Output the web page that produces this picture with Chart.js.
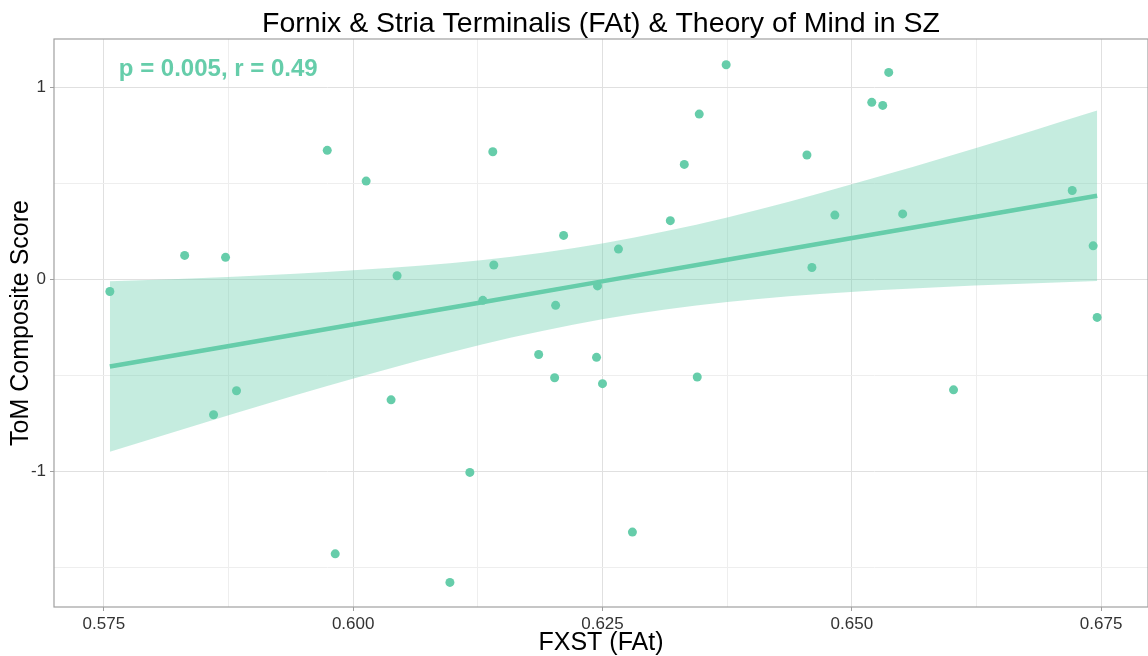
<!DOCTYPE html>
<html>
<head>
<meta charset="utf-8">
<script src="https://cdn.jsdelivr.net/npm/chart.js@4.4.1/dist/chart.umd.min.js"></script>
<style>
  html, body { margin: 0; padding: 0; background: #fff; }
  #wrap { width: 1148px; height: 656px; }
</style>
</head>
<body>
<div id="wrap"><canvas id="fxst" width="1148" height="656"></canvas></div>
<script>
// FXST (FAt) vs ToM composite
var fxst = [0.5756, 0.5831, 0.5872, 0.5974, 0.6013, 0.6044, 0.5883, 0.5860, 0.6038, 0.5982,
            0.6140, 0.6141, 0.6130, 0.6211, 0.6203, 0.6245, 0.6266, 0.6318, 0.6332, 0.6347,
            0.6374, 0.6186, 0.6244, 0.6202, 0.6250, 0.6345, 0.6117, 0.6280, 0.6097, 0.6537,
            0.6520, 0.6531, 0.6455, 0.6483, 0.6551, 0.6460, 0.6721, 0.6742, 0.6746, 0.6602];
var tom  = [-0.065, 0.123, 0.113, 0.670, 0.510, 0.017, -0.582, -0.707, -0.629, -1.431,
             0.663, 0.073, -0.111, 0.227, -0.137, -0.036, 0.156, 0.304, 0.597, 0.859,
             1.116, -0.393, -0.408, -0.514, -0.545, -0.510, -1.007, -1.318, -1.580, 1.076,
             0.920, 0.904, 0.646, 0.333, 0.339, 0.060, 0.461, 0.173, -0.200, -0.577];

// smooth line + confidence band, read at a few x positions
var fitX     = [0.5756, 0.5880, 0.6004, 0.6128, 0.6251, 0.6375, 0.6499, 0.6623, 0.6746];
var fitY     = [-0.456, -0.345, -0.233, -0.122, -0.011, 0.100, 0.212, 0.323, 0.434];
var ciUpper  = [-0.012, 0.012, 0.047, 0.098, 0.186, 0.320, 0.492, 0.680, 0.878];
var ciLower  = [-0.900, -0.702, -0.513, -0.342, -0.208, -0.120, -0.068, -0.034, -0.010];

var xMajor = [0.575, 0.600, 0.625, 0.650, 0.675];
var xMinor = [0.5875, 0.6125, 0.6375, 0.6625];
var yMajor = [-1, 0, 1];
var yMinor = [-1.5, -0.5, 0.5];

var title = 'Fornix & Stria Terminalis (FAt) & Theory of Mind in SZ';
var statsLabel = 'p = 0.005, r = 0.49';

var green = '#66CDAA';
var FONT = '"Liberation Sans", Arial, Helvetica, sans-serif';

function pts(xs, ys) {
  var out = [];
  for (var i = 0; i < xs.length; i++) out.push({x: xs[i], y: ys[i]});
  return out;
}
function tickList(major, minor) {
  return major.concat(minor).sort(function(a, b) { return a - b; })
    .map(function(v) { return {value: v}; });
}
function isMajor(list, v) {
  for (var i = 0; i < list.length; i++) if (Math.abs(list[i] - v) < 1e-9) return true;
  return false;
}

var ggPanel = {
  id: 'ggPanel',
  afterDraw: function(chart) {
    var ctx = chart.ctx, a = chart.chartArea;
    ctx.save();
    ctx.strokeStyle = '#a0a0a0';
    ctx.lineWidth = 1.2;
    ctx.strokeRect(a.left, a.top, a.right - a.left, a.bottom - a.top);

    ctx.fillStyle = '#000';
    ctx.font = '28.5px ' + FONT;
    ctx.textAlign = 'center';
    ctx.textBaseline = 'alphabetic';
    ctx.fillText(title, (a.left + a.right) / 2, 32);

    var xs = chart.scales.x, ys = chart.scales.y;
    ctx.fillStyle = green;
    ctx.font = 'bold 24px ' + FONT;
    ctx.textAlign = 'left';
    ctx.textBaseline = 'middle';
    ctx.fillText(statsLabel, xs.getPixelForValue(0.5765), ys.getPixelForValue(1.09));
    ctx.restore();
  }
};

new Chart(document.getElementById('fxst'), {
  type: 'scatter',
  data: {
    datasets: [
      {
        type: 'scatter',
        data: pts(fxst, tom),
        backgroundColor: green,
        borderWidth: 0,
        pointRadius: 4.5,
        order: 0
      },
      {
        type: 'line',
        data: pts(fitX, fitY),
        borderColor: green,
        borderWidth: 4.5,
        pointRadius: 0,
        fill: false,
        order: 1
      },
      {
        type: 'line',
        data: pts(fitX, ciUpper),
        borderWidth: 0,
        borderColor: 'rgba(0,0,0,0)',
        pointRadius: 0,
        cubicInterpolationMode: 'monotone',
        backgroundColor: 'rgba(102,205,170,0.38)',
        fill: '+1',
        order: 2
      },
      {
        type: 'line',
        data: pts(fitX, ciLower),
        borderWidth: 0,
        borderColor: 'rgba(0,0,0,0)',
        pointRadius: 0,
        cubicInterpolationMode: 'monotone',
        fill: false,
        order: 3
      }
    ]
  },
  options: {
    responsive: false,
    animation: false,
    devicePixelRatio: 1,
    layout: { autoPadding: false, padding: { top: 39, right: 0, left: 0, bottom: 0 } },
    plugins: {
      legend: { display: false },
      tooltip: { enabled: false },
      title: { display: false }
    },
    scales: {
      x: {
        type: 'linear',
        min: 0.57,
        max: 0.6797,
        afterBuildTicks: function(s) { s.ticks = tickList(xMajor, xMinor); },
        afterFit: function(s) { s.height = 49; s.paddingLeft = 0; s.paddingRight = 0; },
        ticks: {
          color: '#333',
          font: { family: FONT, size: 17 },
          padding: 3,
          maxRotation: 0,
          autoSkip: false,
          callback: function(v) { return isMajor(xMajor, v) ? v.toFixed(3) : ''; }
        },
        grid: {
          color: function(c) { return isMajor(xMajor, c.tick.value) ? '#e0e0e0' : '#eeeeee'; },
          lineWidth: 1,
          tickLength: 4,
          tickColor: function(c) { return isMajor(xMajor, c.tick.value) ? '#a0a0a0' : 'rgba(0,0,0,0)'; }
        },
        border: { display: false },
        title: {
          display: true,
          text: 'FXST (FAt)',
          color: '#000',
          font: { family: FONT, size: 25, lineHeight: 1 },
          padding: { top: 0, bottom: 0 }
        }
      },
      y: {
        type: 'linear',
        min: -1.708,
        max: 1.25,
        afterBuildTicks: function(s) { s.ticks = tickList(yMajor, yMinor); },
        afterFit: function(s) { s.width = 54; },
        ticks: {
          color: '#333',
          font: { family: FONT, size: 17 },
          padding: 4,
          autoSkip: false,
          callback: function(v) { return isMajor(yMajor, v) ? String(v) : ''; }
        },
        grid: {
          color: function(c) { return isMajor(yMajor, c.tick.value) ? '#e0e0e0' : '#eeeeee'; },
          lineWidth: 1,
          tickLength: 4,
          tickColor: function(c) { return isMajor(yMajor, c.tick.value) ? '#a0a0a0' : 'rgba(0,0,0,0)'; }
        },
        border: { display: false },
        title: {
          display: true,
          text: 'ToM Composite Score',
          color: '#000',
          font: { family: FONT, size: 25 },
          padding: { top: 6, bottom: 0 }
        }
      }
    }
  },
  plugins: [ggPanel]
});
</script>
</body>
</html>
